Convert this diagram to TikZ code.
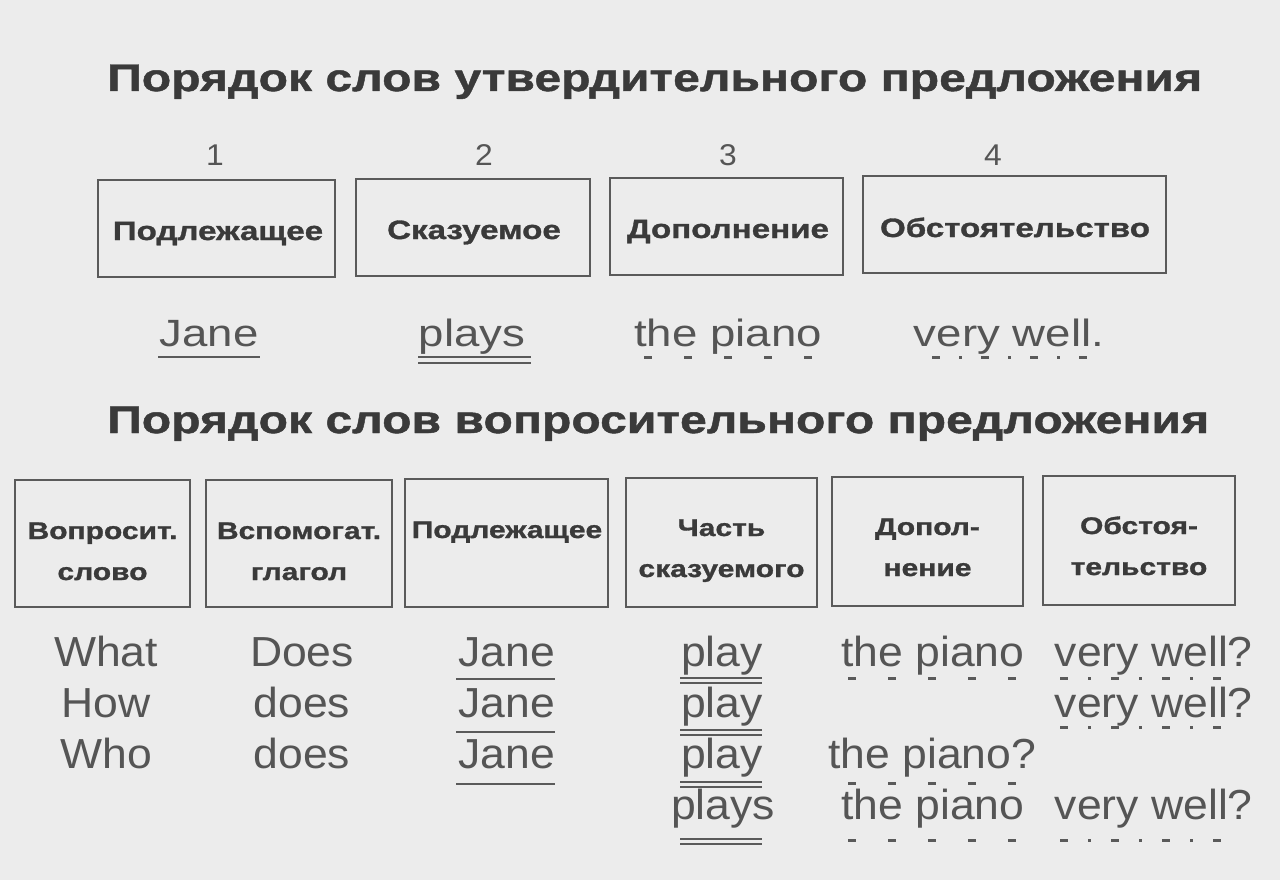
\documentclass[tikz,border=0pt]{standalone}
\usepackage{fontspec}
\setmainfont{Liberation Sans}
\newfontfamily\boldw[FakeStretch=1.25,FakeBold=1.2]{Liberation Sans}
\newfontfamily\regtop[FakeStretch=1.2]{Liberation Sans}
\newfontfamily\regbot[FakeStretch=1.06]{Liberation Sans}
\definecolor{bgc}{HTML}{ECECEC}
\definecolor{linec}{HTML}{5A5A5A}
\definecolor{boldc}{HTML}{3A3A3A}
\definecolor{regc}{HTML}{555555}
\tikzset{
  ttl/.style={anchor=base west, inner sep=0pt, text=boldc, font=\boldw\bfseries\fontsize{38.5}{40}\selectfont},
  numlbl/.style={anchor=base, inner sep=0pt, text=regc, font=\regbot\fontsize{30}{32}\selectfont},
  frame/.style={draw=linec, line width=1.8pt},
  lblA/.style={anchor=base, inner sep=0pt, text=boldc, font=\boldw\bfseries\fontsize{26.5}{28}\selectfont},
  lblB/.style={anchor=base, inner sep=0pt, text=boldc, font=\boldw\bfseries\fontsize{24}{26}\selectfont},
  extop/.style={anchor=base, inner sep=0pt, text=regc, font=\regtop\fontsize{38}{40}\selectfont},
  exbot/.style={anchor=base, inner sep=0pt, text=regc, font=\regbot\fontsize{42}{44}\selectfont},
  uline/.style={draw=linec, line width=2pt},
  dline/.style={draw=linec, line width=3pt, dash pattern=on 8pt off 32pt},
  ddline/.style={draw=linec, line width=3pt, dash pattern=on 8pt off 19pt on 3pt off 19pt},
  ddlineb/.style={draw=linec, line width=3pt, dash pattern=on 8pt off 20pt on 3pt off 20pt},
}
\begin{document}
\begin{tikzpicture}[x=1pt,y=-1pt]
\fill[bgc] (0,0) rectangle (1280,880);
\useasboundingbox (0,0) rectangle (1280,880);

% titles
\node[ttl] (title1) at (107,91) {Порядок слов утвердительного предложения};
\node[ttl] (title2) at (107,433) {Порядок слов вопросительного предложения};

% numbers
\node[numlbl] (n1) at (215,166) {1};
\node[numlbl] (n2) at (484,166) {2};
\node[numlbl] (n3) at (728,166) {3};
\node[numlbl] (n4) at (993,166) {4};

% top boxes
\draw[frame] (98,180) rectangle (335,277);
\draw[frame] (356,179) rectangle (590,276);
\draw[frame] (610,178) rectangle (843,275);
\draw[frame] (863,176) rectangle (1166,273);
\node[lblA] (a1) at (218,240) {Подлежащее};
\node[lblA] (a2) at (474,239) {Сказуемое};
\node[lblA] (a3) at (728,238) {Дополнение};
\node[lblA] (a4) at (1015,237) {Обстоятельство};

% top example
\node[extop] (e1) at (209,346) {Jane};
\node[extop] (e2) at (472,346) {plays};
\node[extop] (e3) at (728,346) {the piano};
\node[extop] (e4) at (1009,346) {very well.};
\draw[uline] (158,357) -- (260,357);
\draw[uline] (418,357) -- (531,357);
\draw[uline] (418,363) -- (531,363);
\draw[dline] (644,357) -- (813,357);
\draw[ddline] (932,357) -- (1088,357);

% bottom boxes
\draw[frame] (15,480) rectangle (190,607);
\draw[frame] (206,480) rectangle (392,607);
\draw[frame] (405,479) rectangle (608,607);
\draw[frame] (626,478) rectangle (817,607);
\draw[frame] (832,477) rectangle (1023,606);
\draw[frame] (1043,476) rectangle (1235,605);
\node[lblB] (q1a) at (102.5,539) {Вопросит.};
\node[lblB] (q1b) at (102.5,580) {слово};
\node[lblB] (q2a) at (299,539) {Вспомогат.};
\node[lblB] (q2b) at (299,580) {глагол};
\node[lblB] (q3a) at (507,538) {Подлежащее};
\node[lblB] (q4a) at (721.5,536) {Часть};
\node[lblB] (q4b) at (721.5,577) {сказуемого};
\node[lblB] (q5a) at (927.5,535) {Допол-};
\node[lblB] (q5b) at (927.5,576) {нение};
\node[lblB] (q6a) at (1139,534) {Обстоя-};
\node[lblB] (q6b) at (1139,575) {тельство};

% bottom examples
\node[exbot] (r1c1) at (106,666) {What};
\node[exbot] (r2c1) at (106,717) {How};
\node[exbot] (r3c1) at (106,768) {Who};
\node[exbot] (r1c2) at (302,666) {Does};
\node[exbot] (r2c2) at (302,717) {does};
\node[exbot] (r3c2) at (302,768) {does};
\node[exbot] (r1c3) at (507,666) {Jane};
\node[exbot] (r2c3) at (507,717) {Jane};
\node[exbot] (r3c3) at (507,768) {Jane};
\node[exbot] (r1c4) at (722,666) {play};
\node[exbot] (r2c4) at (722,717) {play};
\node[exbot] (r3c4) at (722,768) {play};
\node[exbot] (r4c4) at (723,819) {plays};
\node[exbot, anchor=base west] (r1c5) at (841,666) {the piano};
\node[exbot, anchor=base west] (r3c5) at (828,768) {the piano?};
\node[exbot, anchor=base west] (r4c5) at (841,819) {the piano};
\node[exbot, anchor=base east] (r1c6) at (1253,666) {very well?};
\node[exbot, anchor=base east] (r2c6) at (1253,717) {very well?};
\node[exbot, anchor=base east] (r4c6) at (1253,819) {very well?};

% subject underlines
\draw[uline] (456,679) -- (555,679);
\draw[uline] (456,732) -- (555,732);
\draw[uline] (456,784) -- (555,784);
% predicate double lines
\foreach \yy in {678,730,782,839} {
  \draw[uline] (680,\yy) -- (762,\yy);
  \draw[uline] (680,\yy+5) -- (762,\yy+5);
}
% object dashes
\draw[dline] (848,678) -- (1017,678);
\draw[dline] (848,783) -- (1017,783);
\draw[dline] (848,840) -- (1017,840);
% adverbial dash-dot
\draw[ddlineb] (1060,678) -- (1222,678);
\draw[ddlineb] (1060,727) -- (1222,727);
\draw[ddlineb] (1060,840) -- (1222,840);
\end{tikzpicture}
\end{document}
